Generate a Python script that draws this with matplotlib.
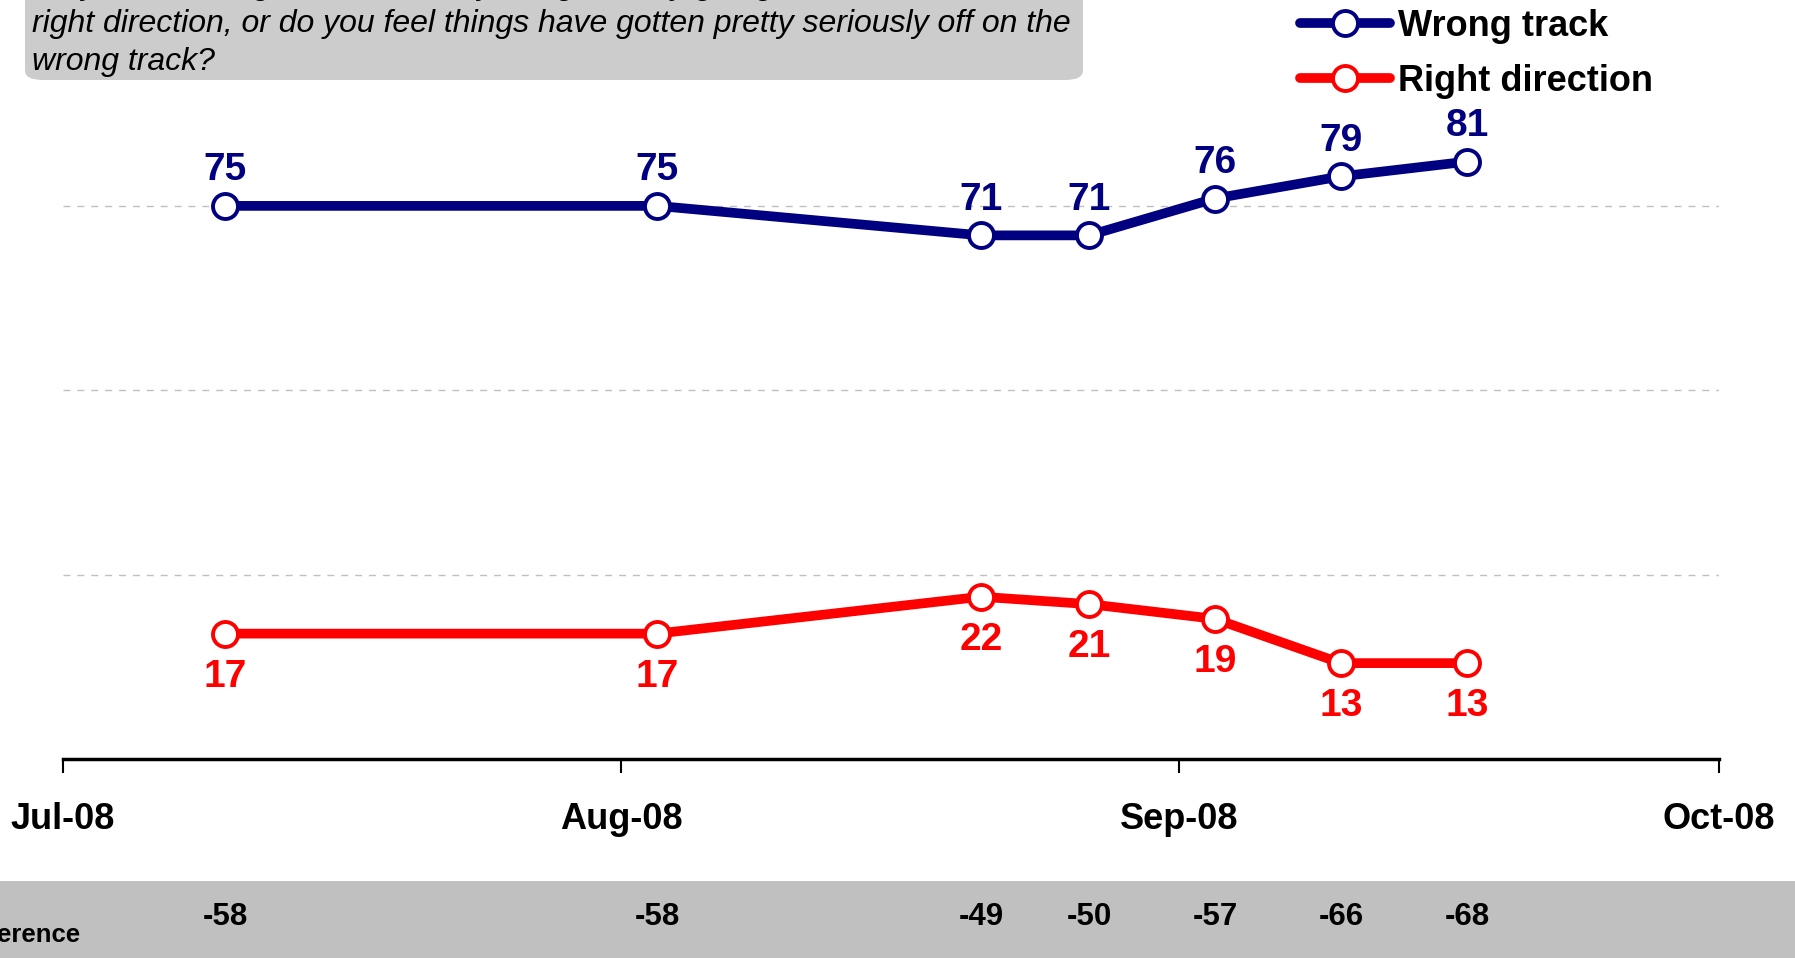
import datetime as dt
import matplotlib
matplotlib.use("Agg")
import matplotlib.pyplot as plt
import matplotlib.dates as mdates
from matplotlib.patches import FancyBboxPatch, Rectangle

plt.rcParams['font.family'] = ['Liberation Sans', 'DejaVu Sans']

# poll dates and results
dates = [dt.date(2008, 7, 10), dt.date(2008, 8, 3), dt.date(2008, 8, 21),
         dt.date(2008, 8, 27), dt.date(2008, 9, 3), dt.date(2008, 9, 10),
         dt.date(2008, 9, 17)]
wrong_track = [75, 75, 71, 71, 76, 79, 81]
right_direction = [17, 17, 22, 21, 19, 13, 13]
difference = [-58, -58, -49, -50, -57, -66, -68]
month_ticks = [dt.date(2008, 7, 1), dt.date(2008, 8, 1),
               dt.date(2008, 9, 1), dt.date(2008, 10, 1)]
question = ["Do you feel things in this country are generally going in the",
            "right direction, or do you feel things have gotten pretty seriously off on the",
            "wrong track?"]

W, H = 1795, 958
fig = plt.figure(figsize=(W / 100, H / 100), dpi=100)
ax = fig.add_axes([63 / W, (H - 759) / H, 1656 / W, (759 - 21.5) / H])

navy = '#000080'
red = '#FF0000'

ax.plot(dates, wrong_track, color=navy, lw=7, marker='o', ms=18,
        mfc='white', mec=navy, mew=2.8, label='Wrong track',
        solid_capstyle='round', clip_on=False, zorder=3)
ax.plot(dates, right_direction, color=red, lw=7, marker='o', ms=18,
        mfc='white', mec=red, mew=2.8, label='Right direction',
        solid_capstyle='round', clip_on=False, zorder=3)

for d, v in zip(dates, wrong_track):
    ax.annotate(str(v), (d, v), xytext=(0, 25.5), textcoords='offset points',
                ha='center', va='center', fontsize=28, fontweight='bold',
                color=navy)
for d, v in zip(dates, right_direction):
    ax.annotate(str(v), (d, v), xytext=(0, -31), textcoords='offset points',
                ha='center', va='center', fontsize=28, fontweight='bold',
                color=red)

ax.set_ylim(0, 100)
ax.set_xlim(month_ticks[0], month_ticks[-1])
ax.set_yticks([25, 50, 75])
ax.yaxis.grid(True, linestyle=(0, (5, 5)), color='#C0C0C0', lw=1)
ax.tick_params(axis='y', left=False, labelleft=False)
ax.set_xticks(month_ticks)
ax.xaxis.set_major_formatter(mdates.DateFormatter('%b-%y'))
ax.tick_params(axis='x', direction='out', length=10, width=1.5,
               labelsize=26, pad=21)
for lab in ax.get_xticklabels():
    lab.set_fontweight('bold')
for s in ['top', 'left', 'right']:
    ax.spines[s].set_visible(False)
ax.spines['bottom'].set_linewidth(2.5)

leg = ax.legend(loc='upper left', bbox_to_anchor=(1300 / W, 1 - 9 / H),
                bbox_transform=fig.transFigure, frameon=False,
                prop={'size': 26, 'weight': 'bold'}, handlelength=2.5,
                handletextpad=0.2, labelspacing=0.55, borderpad=0,
                borderaxespad=0)

# question box at the top
fig.patches.append(FancyBboxPatch((25 / W, 1 - 80 / H), 1058 / W, 200 / H,
                                  boxstyle='round,pad=0,rounding_size=0.01',
                                  transform=fig.transFigure, fc='#CCCCCC',
                                  ec='none', zorder=0))
for i, line in enumerate(question):
    fig.text(32 / W, 1 - (-14 + 38 * i) / H, line, fontsize=23,
             style='italic', va='center', ha='left')

# difference strip at the bottom
fig.patches.append(Rectangle((0, 0), 1, (H - 881) / H,
                             transform=fig.transFigure, fc='#C0C0C0',
                             ec='none', zorder=0))
fig.text(80 / W, 1 - 935 / H, 'Difference', fontsize=18.5, fontweight='bold',
         ha='right', va='center')
for d, v in zip(dates, difference):
    x = ax.transData.transform((mdates.date2num(d), 0))[0]
    fig.text(x / W, 1 - 917 / H, str(v), fontsize=22.5, fontweight='bold',
             ha='center', va='center')

fig.savefig('out.png', dpi=100)
